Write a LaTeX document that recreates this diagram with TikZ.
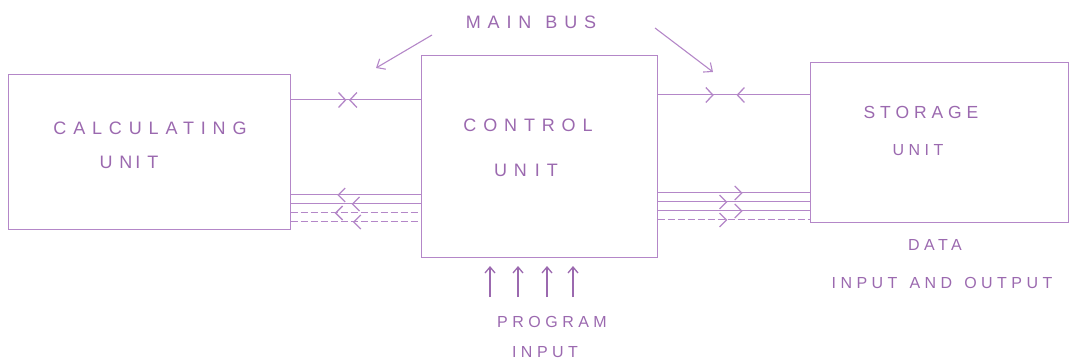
\documentclass[tikz,border=0pt]{standalone}
\usepackage{fontspec}
\setmainfont{Liberation Sans}
\newfontfamily\hand[LetterSpace=28]{Liberation Sans}
\newfontfamily\handwide[LetterSpace=38]{Liberation Sans}
\usetikzlibrary{arrows.meta,decorations.markings}
\definecolor{pen}{RGB}{180,135,200}
\definecolor{ink}{RGB}{155,105,175}
\begin{document}
\begin{tikzpicture}[x=1pt,y=-1pt,
  box/.style 2 args={draw=pen,line width=1pt,minimum width=#1,minimum height=#2,inner sep=0pt},
  lbl/.style={text=ink,inner sep=0pt,font=\hand\fontsize{16}{19}\selectfont},
  biglbl/.style={text=ink,inner sep=0pt,font=\handwide\fontsize{18}{21}\selectfont},
  midlbl/.style={text=ink,inner sep=0pt,font=\hand\fontsize{17.5}{21}\selectfont},
  wire/.style={draw=pen,line width=1pt},
  tipR/.style={postaction={decorate},decoration={markings,mark=at position #1 with {\arrow{Straight Barb[length=7pt,width=14pt,line width=1.3pt]}}}},
  tipL/.style={postaction={decorate},decoration={markings,mark=at position #1 with {\arrowreversed{Straight Barb[length=7pt,width=14pt,line width=1.3pt]}}}},
  tipLR/.style 2 args={postaction={decorate},decoration={markings,
     mark=at position #1 with {\arrow{Straight Barb[length=7pt,width=15pt,line width=1.3pt]}},
     mark=at position #2 with {\arrowreversed{Straight Barb[length=7pt,width=15pt,line width=1.3pt]}}}},
  pointer/.style={draw=pen,line width=1.1pt,-{Straight Barb[length=7pt,width=12pt,line width=1.1pt]}},
  upar/.style={draw=ink,line width=1.3pt,-{Straight Barb[length=6pt,width=10pt,line width=1.3pt]}}
]
\useasboundingbox (0,0) rectangle (1078,363);

% boxes
\node[box={282}{155}] (calc) at (149,152.5) {};
\node[box={236}{202}] (ctrl) at (539,157) {};
\node[box={258}{160}] (stor) at (939,143) {};

% box texts
\node[biglbl] (t1) at (150,128) {CALCULATING};
\node[biglbl] (t2) at (129,162) {UN\hspace{3pt}IT};
\node[biglbl] (t3) at (528,125) {CONTROL};
\node[biglbl] (t4) at (526,170) {UN\hspace{8pt}IT};
\node[midlbl] (t5) at (921,112) {STORAGE};
\node[lbl] (t6) at (918,150) {UNIT};

% main bus label and pointers
\node[biglbl] (bus) at (531,22) {MAIN\hspace{14pt}BUS};
\coordinate (bl0) at (432,35);
\coordinate (bl1) at (376,68);
\coordinate (br0) at (655,28);
\coordinate (br1) at (713,72);
\draw[pointer] (bl0) -- (bl1);
\draw[pointer] (br0) -- (br1);

% main bus wires
\draw[wire,tipLR={0.43}{0.45}] (calc.east |- 0,100) -- (ctrl.west |- 0,100);
\draw[wire,tipLR={0.37}{0.52}] (ctrl.east |- 0,95) -- (stor.west |- 0,95);

% lower wires, calculating <- control
\draw[wire,tipL=0.36] (calc.east |- 0,195) -- (ctrl.west |- 0,195);
\draw[wire,tipL=0.47] (calc.east |- 0,204) -- (ctrl.west |- 0,204);
\draw[wire,dash pattern=on 7pt off 3pt,tipL=0.34] (calc.east |- 0,213) -- (ctrl.west |- 0,213);
\draw[wire,dash pattern=on 7pt off 3pt,tipL=0.48] (calc.east |- 0,222) -- (ctrl.west |- 0,222);

% lower wires, control -> storage
\draw[wire,tipR=0.56] (ctrl.east |- 0,193) -- (stor.west |- 0,193);
\draw[wire,tipR=0.46] (ctrl.east |- 0,202) -- (stor.west |- 0,202);
\draw[wire,tipR=0.56] (ctrl.east |- 0,211) -- (stor.west |- 0,211);
\draw[wire,dash pattern=on 7pt off 3pt,tipR=0.46] (ctrl.east |- 0,220) -- (stor.west |- 0,220);

% program input arrows
\foreach \i/\x in {1/490,2/518,3/547,4/573}{
  \coordinate (ps\i) at (\x,297);
  \coordinate (pe\i) at (\x,266);
  \draw[upar] (ps\i) -- (pe\i);
}
\node[lbl] (t7) at (552,322) {PROGRAM};
\node[lbl] (t8) at (545,352) {INPUT};

% data labels
\node[lbl] (t9) at (935,245) {DATA};
\node[lbl] (t10) at (942,283) {INPUT\hspace{12pt}AND\hspace{12pt}OUTPUT};
\end{tikzpicture}
\end{document}
